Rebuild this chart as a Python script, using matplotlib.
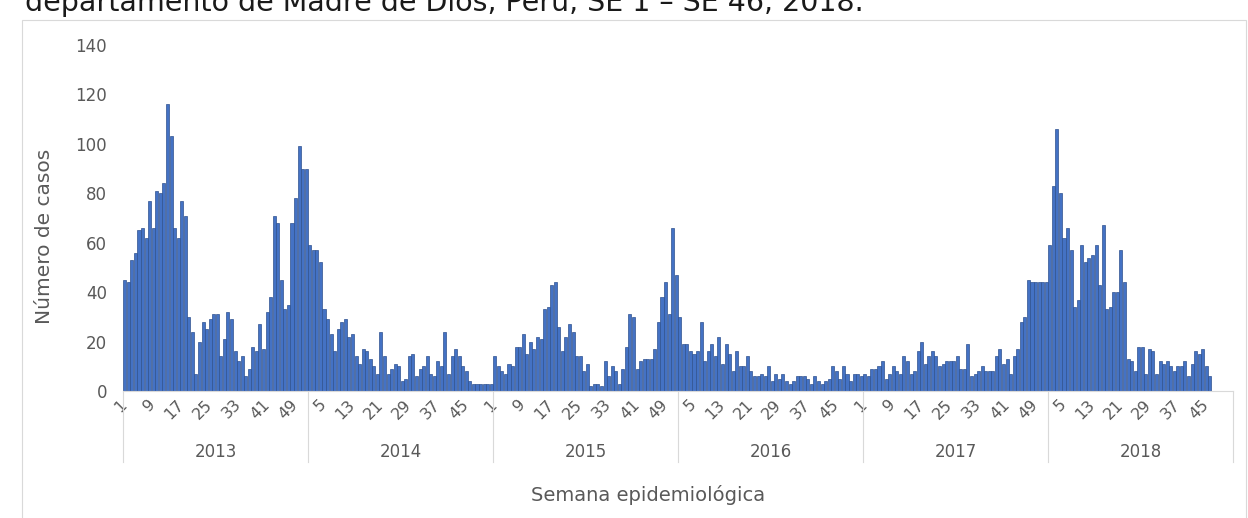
import numpy as np
import matplotlib.pyplot as plt
from matplotlib.patches import Rectangle
from matplotlib.transforms import blended_transform_factory

# casos por semana epidemiológica, un arreglo por año
years = ['2013', '2014', '2015', '2016', '2017', '2018']
w2013 = [45, 44, 53, 56, 65, 66, 62, 77, 66, 81, 80, 84, 116, 103, 66, 62, 77, 71, 30, 24,
         7, 20, 28, 25, 29, 31, 31, 14, 21, 32, 29, 16, 12, 14, 6, 9, 18, 16, 27, 17,
         32, 38, 71, 68, 45, 33, 35, 68, 78, 99, 90, 90]
w2014 = [59, 57, 57, 52, 33, 29, 23, 16, 25, 28, 29, 22, 23, 14, 11, 17, 16, 13, 10, 7,
         24, 14, 7, 9, 11, 10, 4, 5, 14, 15, 6, 9, 10, 14, 7, 6, 12, 10, 24, 7,
         14, 17, 14, 10, 8, 4, 3, 3, 3, 3, 3, 3]
w2015 = [14, 10, 8, 7, 11, 10, 18, 18, 23, 15, 20, 17, 22, 21, 33, 34, 43, 44, 26, 16,
         22, 27, 24, 14, 14, 8, 11, 2, 3, 3, 2, 12, 6, 10, 8, 3, 9, 18, 31, 30,
         9, 12, 13, 13, 13, 17, 28, 38, 44, 31, 66, 47]
w2016 = [30, 19, 19, 16, 15, 16, 28, 12, 16, 19, 14, 22, 11, 19, 15, 8, 16, 10, 10, 14,
         8, 6, 6, 7, 6, 10, 4, 7, 5, 7, 4, 3, 4, 6, 6, 6, 5, 3, 6, 4,
         3, 4, 5, 10, 8, 5, 10, 7, 4, 7, 7, 6]
w2017 = [7, 6, 9, 9, 10, 12, 5, 7, 10, 8, 7, 14, 12, 7, 8, 16, 20, 11, 14, 16,
         14, 10, 11, 12, 12, 12, 14, 9, 9, 19, 6, 7, 8, 10, 8, 8, 8, 14, 17, 11,
         13, 7, 14, 17, 28, 30, 45, 44, 44, 44, 44, 44]
w2018 = [59, 83, 106, 80, 62, 66, 57, 34, 37, 59, 52, 54, 55, 59, 43, 67, 33, 34, 40, 40,
         57, 44, 13, 12, 8, 18, 18, 7, 17, 16, 7, 12, 11, 12, 10, 8, 10, 10, 12, 6,
         11, 16, 15, 17, 10, 6]
series = [w2013, w2014, w2015, w2016, w2017, w2018]
WEEKS = 52

GRAY = '#595959'
LINE = '#D9D9D9'

fig = plt.figure(figsize=(12.48, 5.18), dpi=100)
W, H = 1248, 518
ax = fig.add_axes([123 / W, 1 - 391 / H, (1233 - 123) / W, (391 - 45) / H])

xs, ys = [], []
for i, vals in enumerate(series):
    for w, v in enumerate(vals):
        xs.append(i * WEEKS + w)
        ys.append(v)
ax.bar(xs, ys, width=0.85, color='#4472C4', edgecolor='#2F528F', linewidth=0.5)

ncat = WEEKS * len(years)
ax.set_xlim(-0.5, ncat - 0.5)
ax.set_ylim(0, 140)
ax.set_yticks(range(0, 141, 20))
ax.tick_params(axis='y', length=0, pad=11.5, labelsize=12, labelcolor=GRAY)

ticks = list(range(0, ncat, 8))
ax.set_xticks(ticks)
ax.set_xticklabels([str(t % WEEKS + 1) for t in ticks], rotation=45, ha='right',
                   va='center', rotation_mode='anchor')
ax.tick_params(axis='x', length=0, pad=8, labelsize=11.5, labelcolor=GRAY)

for s in ['top', 'right', 'left']:
    ax.spines[s].set_visible(False)
ax.spines['bottom'].set_color(LINE)
ax.spines['bottom'].set_linewidth(0.8)

trans = blended_transform_factory(ax.transData, ax.transAxes)
for i in range(len(years) + 1):
    b = i * WEEKS - 0.5
    ax.plot([b, b], [0, -0.205], transform=trans, color=LINE, lw=0.8, clip_on=False)
for i, yr in enumerate(years):
    ax.text(i * WEEKS + (WEEKS - 1) / 2, -0.176, yr, transform=trans, ha='center',
            va='center', fontsize=12, color=GRAY)

fig.text(45 / W, 1 - 236 / H, 'Número de casos', rotation=90, ha='center', va='center',
         fontsize=14.5, color=GRAY)
fig.text(648 / W, 1 - 495 / H, 'Semana epidemiológica', ha='center', va='center',
         fontsize=14, color=GRAY)

fig.add_artist(Rectangle((22 / W, -0.01), (1246 - 22) / W, 1 - 20 / H + 0.01,
                         transform=fig.transFigure, fill=False, edgecolor=LINE, lw=0.8))
# el título original queda recortado por el borde superior
fig.text(25 / W, 1 - 11 / H, 'departamento de Madre de Dios, Perú, SE 1 – SE 46, 2018.',
         fontsize=20.5, va='baseline', color='#1a1a1a')

fig.savefig('out.png', dpi=100)
